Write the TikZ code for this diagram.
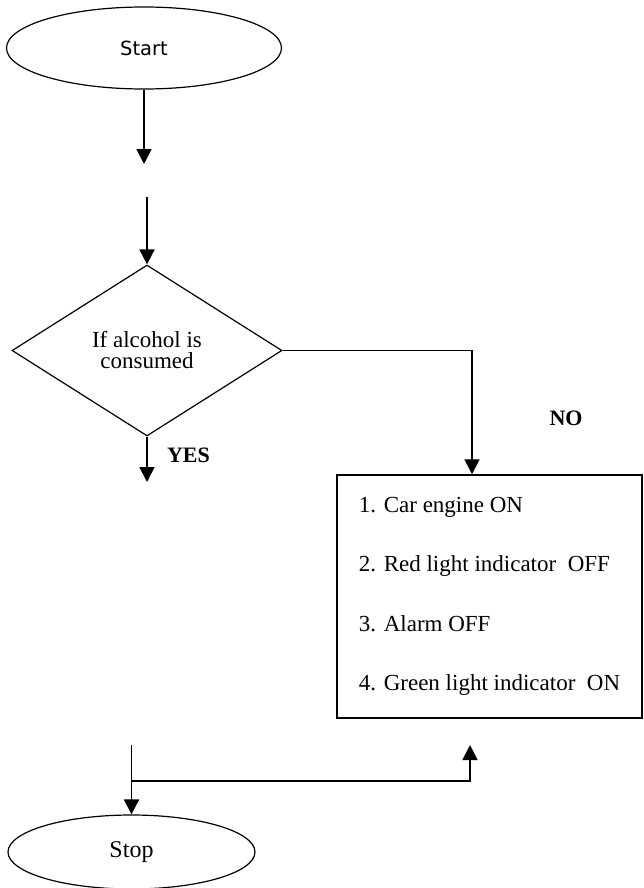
\documentclass[tikz,border=0pt]{standalone}
\usepackage{fontspec}
\setmainfont{Liberation Serif}
\newfontfamily\startfont{DejaVu Sans}
\usetikzlibrary{shapes.geometric,arrows.meta}
\tikzstyle{terminal} = [ellipse, draw, line width=1.2pt, inner sep=0pt]
\tikzstyle{decision} = [diamond, draw, line width=1.2pt, align=center, inner sep=0pt, minimum width=270pt, minimum height=171pt, font=\fontsize{23}{21}\selectfont]
\tikzstyle{block} = [rectangle, draw, line width=1.5pt, align=left, minimum width=305pt, minimum height=243pt, font=\fontsize{23}{59.5}\selectfont]
\tikzstyle{line} = [draw, line width=1.8pt, -{Triangle[length=15pt,width=15pt]}]
\tikzstyle{answer} = [font=\fontsize{22}{24}\selectfont\bfseries]

\begin{document}
\begin{tikzpicture}[x=1pt,y=-1pt]
\useasboundingbox (0,0) rectangle (643,888);

\node [terminal, minimum width=275pt, minimum height=82pt, font=\startfont\fontsize{19.5}{22}\selectfont] (start) at (144,48) {Start};
\coordinate (gap_top) at (144,164);
\coordinate (gap_in) at (147,197);

\node [decision] (decide) at (147,350.5) {If alcohol is\\consumed};
\coordinate (gap_yes) at (147,482);

\node [block] (actions) at (489.5,596.5) {1. Car engine ON\\2. Red light indicator\ \ OFF\\3. Alarm OFF\\4. Green light indicator\ \ ON};

%labels
\node [answer] (no) at (566,418) {NO};
\node [answer] (yes) at (188.5,455) {YES};

\coordinate (gap_out) at (131.5,745);
\coordinate (merge) at (131.5,781);
\coordinate (gap_back) at (470,745);
\node [terminal, minimum width=247pt, minimum height=74pt, font=\fontsize{24}{26}\selectfont] (stop) at (131.5,852) {Stop};

% arrows
\path [line] (start) -- (gap_top);
\path [line] (gap_in) -- (decide);
\path [line] (decide) -- (gap_yes);
\path [line] (decide.east) -| ([xshift=-17.5pt]actions.north);

\path [line] (gap_out) -- (stop);
\path [line] (merge) -| (gap_back);

\end{tikzpicture}
\end{document}
